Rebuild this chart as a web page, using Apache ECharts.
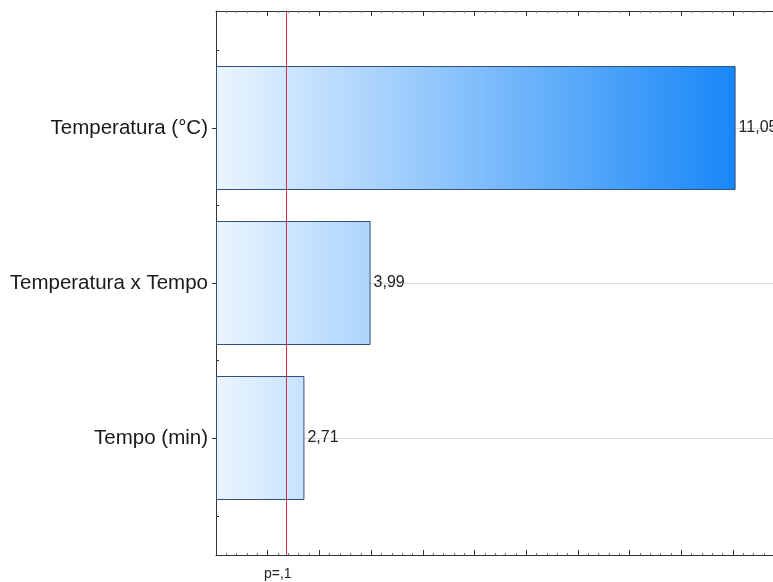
<!DOCTYPE html>
<html>
<head>
<meta charset="utf-8">
<script src="https://cdn.jsdelivr.net/npm/echarts@6/dist/echarts.min.js"></script>
<style>
html,body{margin:0;padding:0;overflow:hidden;background:#fff;}
#chart{width:800px;height:582px;}
</style>
</head>
<body>
<div id="chart"></div>
<script>
// ---- data ----
const categories = ['Temperatura (°C)', 'Temperatura x Tempo', 'Tempo (min)'];
const effects = [11.05, 3.99, 2.71];
const pCritical = 2.353;           // t critical value for p = .1
const pLabel = 'p=,1';
const xMin = 1, xMax = 12;

const chart = echarts.init(document.getElementById('chart'), null, {renderer: 'canvas'});
const FONT = '"Liberation Sans", Arial, sans-serif';
const fmt = v => v.toFixed(2).replace('.', ',');

const grad = new echarts.graphic.LinearGradient(216, 0, 736, 0, [
  {offset: 0, color: '#ebf5ff'},
  {offset: 1, color: '#1787f7'}
], true);

const option = {
  animation: false,
  backgroundColor: '#fff',
  textStyle: {fontFamily: FONT},
  grid: [
    {left: 216, width: 568.7, top: 128, height: 310, containLabel: false},
    {left: 216, width: 568.7, top: 11, height: 544, containLabel: false}
  ],
  xAxis: [
    {gridIndex: 0, type: 'value', min: xMin, max: xMax, show: false},
    {gridIndex: 1, type: 'value', position: 'bottom', min: xMin, max: xMax, interval: 1,
      axisLine: {show: true, lineStyle: {color: '#333', width: 1}},
      axisTick: {show: true, inside: true, length: 5, lineStyle: {color: '#333'}},
      minorTick: {show: true, splitNumber: 5, length: 2, lineStyle: {color: '#777'}},
      axisLabel: {show: false}, splitLine: {show: false}},
    {gridIndex: 1, type: 'value', position: 'top', min: xMin, max: xMax, interval: 1,
      axisLine: {show: true, lineStyle: {color: '#333', width: 1}},
      axisTick: {show: true, inside: true, length: 5, lineStyle: {color: '#333'}},
      minorTick: {show: true, splitNumber: 5, length: 2, lineStyle: {color: '#777'}},
      axisLabel: {show: false}, splitLine: {show: false}}
  ],
  yAxis: [
    {gridIndex: 0, type: 'category', data: categories, inverse: true, boundaryGap: false,
      axisLine: {show: false},
      axisTick: {show: true, inside: false, length: 4, lineStyle: {color: '#333'}},
      axisLabel: {show: true, margin: 8, fontSize: 20.5, color: '#1a1a1a', fontFamily: FONT},
      splitLine: {show: true, lineStyle: {color: '#dcdcdc', width: 1}}},
    {gridIndex: 1, type: 'value', min: 0, max: 14, interval: 1,
      axisLine: {show: true, onZero: false, lineStyle: {color: '#333', width: 1}},
      axisTick: {show: true, inside: true, length: 3, lineStyle: {color: '#333'}},
      axisLabel: {show: false}, splitLine: {show: false}}
  ],
  series: [
    {
      type: 'bar', xAxisIndex: 0, yAxisIndex: 0, stack: 'e',
      data: effects.map(() => xMin), barWidth: 124, clip: false,
      itemStyle: {color: 'rgba(0,0,0,0)', borderWidth: 0},
      silent: true, z: 1
    },
    {
      type: 'bar', xAxisIndex: 0, yAxisIndex: 0, stack: 'e',
      data: effects.map(v => v - xMin), barWidth: 124, clip: false,
      itemStyle: {color: grad, borderColor: '#34507a', borderWidth: 1},
      label: {show: true, position: 'right', distance: 3, fontSize: 16, color: '#222',
        fontFamily: FONT, formatter: p => fmt(effects[p.dataIndex])},
      z: 3
    },
    {
      type: 'line', xAxisIndex: 1, yAxisIndex: 1, data: [], silent: true,
      markLine: {
        silent: true, symbol: ['none', 'none'], animation: false,
        lineStyle: {color: '#cc3344', width: 1, type: 'solid'},
        label: {show: true, position: 'start', distance: 12, offset: [-8, 0],
          formatter: pLabel, fontSize: 14, color: '#222', fontFamily: FONT},
        data: [{xAxis: pCritical}]
      },
      z: 5
    }
  ]
};
chart.setOption(option);
</script>
</body>
</html>
